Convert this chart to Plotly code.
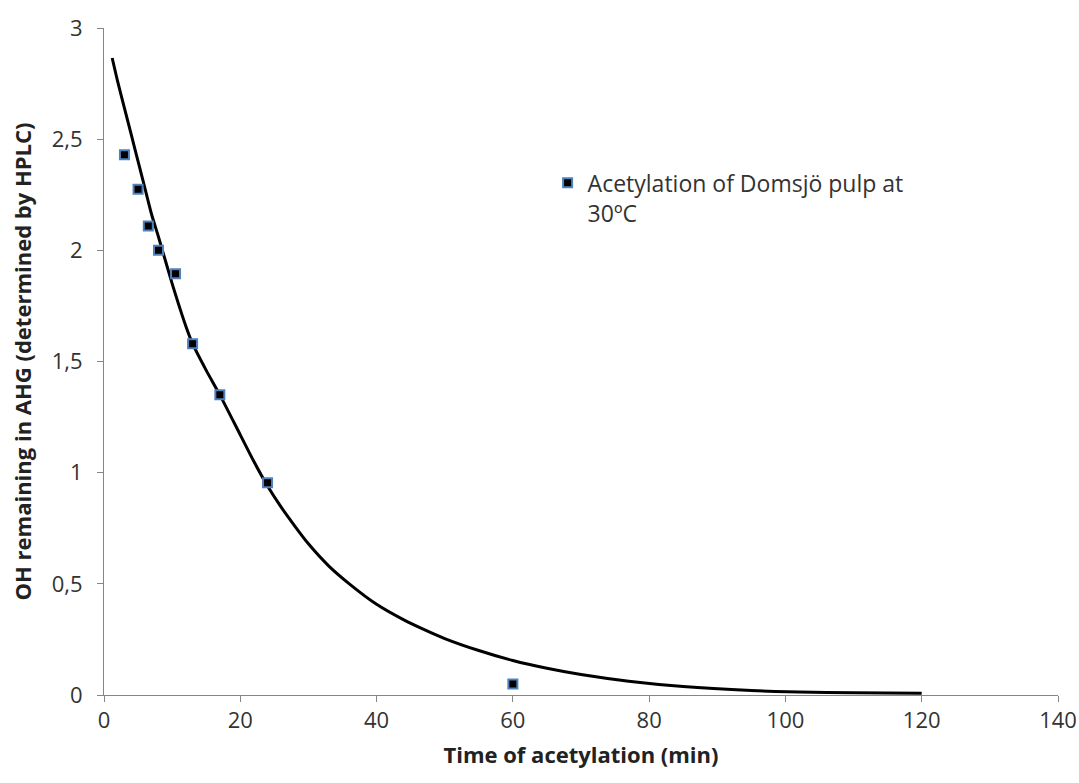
import plotly.graph_objects as go

# Measured data points (time in min, OH remaining in AHG)
pts_x = [3, 5, 6.5, 8, 10.5, 13, 17, 24, 60]
pts_y = [2.43, 2.275, 2.11, 2.0, 1.895, 1.58, 1.35, 0.955, 0.05]

# Fitted curve
fit_x = [1.2, 2, 3, 4, 5, 6, 7, 8, 10, 12, 13, 15, 17, 20, 22, 24, 26, 28, 30, 33, 36,
         40, 44, 47, 50, 55, 60, 65, 70, 77, 85, 95, 102, 110, 120]
fit_y = [2.865, 2.76, 2.64, 2.52, 2.40, 2.28, 2.16, 2.06, 1.85, 1.66, 1.58, 1.46, 1.35,
         1.17, 1.05, 0.94, 0.845, 0.76, 0.68, 0.58, 0.50, 0.408, 0.338, 0.294, 0.254, 0.20,
         0.155, 0.12, 0.092, 0.062, 0.038, 0.02, 0.013, 0.01, 0.008]

x_ticks = [0, 20, 40, 60, 80, 100, 120, 140]
y_ticks = [0, 0.5, 1, 1.5, 2, 2.5, 3]

FONT = "Open Sans"
AX = "#868686"

fig = go.Figure()
fig.add_trace(go.Scatter(
    x=fit_x, y=fit_y, mode="lines",
    line=dict(color="black", width=3, shape="spline", smoothing=0.6),
    showlegend=False, hoverinfo="skip"))
fig.add_trace(go.Scatter(
    x=pts_x, y=pts_y, mode="markers", name="Acetylation of Domsjö pulp at<br>30ºC",
    marker=dict(symbol="square", size=9, color="black", line=dict(color="#4F81BD", width=2)),
    cliponaxis=False))

fig.update_layout(
    width=1079, height=783,
    margin=dict(l=104, r=21, t=28, b=88),
    paper_bgcolor="white", plot_bgcolor="white",
    separators=", ",
    font=dict(family=FONT, size=22, color="#333333"),
    legend=dict(x=0.465, y=0.8, xanchor="left", yanchor="top", valign="top",
                font=dict(family=FONT, size=23, color="#333333"),
                bgcolor="rgba(0,0,0,0)", tracegroupgap=0),
    xaxis=dict(range=[0, 140], tickvals=x_ticks, showgrid=False, zeroline=False,
               automargin=False,
               showline=True, linecolor=AX, linewidth=1, ticks="outside", ticklen=6,
               tickcolor=AX, title=dict(text="<b>Time of acetylation (min)</b>",
                                         font=dict(size=22, color="#222222"), standoff=14)),
    yaxis=dict(range=[0, 3], tickvals=y_ticks, showgrid=False, zeroline=False,
               automargin=False,
               showline=True, linecolor=AX, linewidth=1, ticks="outside", ticklen=6,
               tickcolor=AX, ticklabelstandoff=10,
               title=dict(text="<b>OH remaining in AHG (determined by HPLC)</b>",
                          font=dict(size=22, color="#222222"), standoff=14)),
)

fig.write_html("out.html")
